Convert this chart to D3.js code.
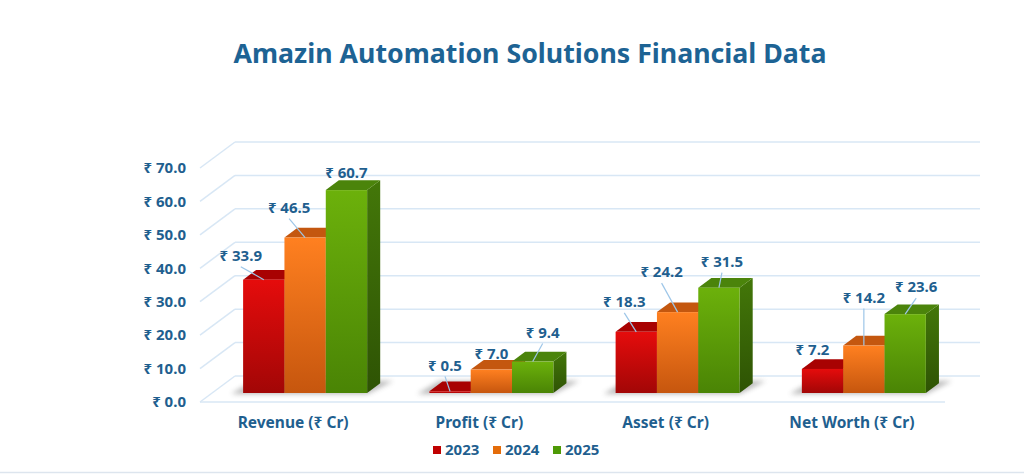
<!DOCTYPE html>
<html lang="en">
<head>
<meta charset="UTF-8">
<title>Amazin Automation Solutions Financial Data</title>
<style>
  body { margin: 0; background: #fff; }
  svg { display: block; font-family: "Noto Sans", "DejaVu Sans", sans-serif; }
  .lbl { font-weight: 700; fill: #1f5f8f; font-size: 15px; }
  .cat { font-size: 15.5px; }
  .grid { stroke: #d8e7f5; stroke-width: 1.5; fill: none; }
  .leader { stroke: #9dc6e8; stroke-width: 1.2; }
</style>
</head>
<body>
<svg width="1024" height="474"></svg>
<script src="https://cdnjs.cloudflare.com/ajax/libs/d3/7.8.5/d3.min.js"></script>
<script>
// data
var categories = ["Revenue (₹ Cr)", "Profit (₹ Cr)", "Asset (₹ Cr)", "Net Worth (₹ Cr)"];
var years = ["2023", "2024", "2025"];
var values2023 = [33.9, 0.5, 18.3, 7.2];
var values2024 = [46.5, 7.0, 24.2, 14.2];
var values2025 = [60.7, 9.4, 31.5, 23.6];
var yTicks = [0, 10, 20, 30, 40, 50, 60, 70];

// label placement (layout only) : [dx, dy] from the top of each bar
var labelNudges = [
  [[-23, -24], [-16, -30], [0, -17]],
  [[-5, -26], [0, -16], [10, -29]],
  [[-12, -30], [-16, -40], [3, -26]],
  [[-10, -19], [0, -48], [11, -27]]
];

var seriesValues = [values2023, values2024, values2025];

var svg = d3.select("svg");

// floor / walls geometry
var originX = 200, originY = 402;
var depthX = 35, depthY = -26;
var barDepthStart = 0.346, barDepthEnd = 0.72;

var band = d3.scaleBand().domain(categories).range([0, 745]);
var inner = d3.scaleBand().domain(years).range([0, 124]);
var height = d3.scaleLinear().domain([0, 70]).range([0, 234]);

function pt(xl, v, d) {
  return [originX + xl + depthX * d, originY - height(v) + depthY * d];
}

var palette = {
  "2023": {top: "#e50c0c", bottom: "#a20606", lid: "#a80202", side: "#850303", sideB: "#6a0202", key: "#c00000"},
  "2024": {top: "#ff8020", bottom: "#c6560e", lid: "#c4570f", side: "#a94a0b", sideB: "#8f3e08", key: "#e46c0a"},
  "2025": {top: "#6cb10b", bottom: "#4a8405", lid: "#4b840b", side: "#437709", sideB: "#2e5304", key: "#4e9a06"}
};

var defs = svg.append("defs");
years.forEach(function(yr) {
  var g = defs.append("linearGradient").attr("id", "front" + yr)
    .attr("x1", 0).attr("y1", 0).attr("x2", 0).attr("y2", 1);
  g.append("stop").attr("offset", "0%").attr("stop-color", palette[yr].top);
  g.append("stop").attr("offset", "100%").attr("stop-color", palette[yr].bottom);
  var s = defs.append("linearGradient").attr("id", "side" + yr)
    .attr("x1", 0).attr("y1", 0).attr("x2", 0).attr("y2", 1);
  s.append("stop").attr("offset", "0%").attr("stop-color", palette[yr].side);
  s.append("stop").attr("offset", "100%").attr("stop-color", palette[yr].sideB);
});
defs.append("filter").attr("id", "blur").attr("x", "-20%").attr("y", "-200%").attr("width", "140%").attr("height", "500%")
  .append("feGaussianBlur").attr("stdDeviation", 2.5);

// title
var title = svg.append("text")
  .attr("x", 530).attr("y", 63)
  .attr("text-anchor", "middle")
  .style("font-weight", 700)
  .style("font-size", "28px")
  .style("fill", "#1d6394")
  .text("Amazin Automation Solutions Financial Data");
var tw = title.node().getComputedTextLength();
title.style("font-size", (28 * 593 / tw) + "px");

// gridlines on the back wall and the side diagonals
var grid = svg.append("g");
yTicks.forEach(function(t) {
  var b0 = pt(0, t, 1), b1 = pt(745, t, 1), f0 = pt(0, t, 0);
  grid.append("line").attr("class", "grid")
    .attr("x1", b0[0]).attr("y1", b0[1]).attr("x2", b1[0]).attr("y2", b1[1]);
  grid.append("line").attr("class", "grid")
    .attr("x1", f0[0]).attr("y1", f0[1]).attr("x2", b0[0]).attr("y2", b0[1]);
});
var fl0 = pt(0, 0, 0), fl1 = pt(745, 0, 0);
grid.append("line").attr("class", "grid")
  .attr("x1", fl0[0]).attr("y1", fl0[1]).attr("x2", fl1[0]).attr("y2", fl1[1]);

// y tick labels
svg.append("g").selectAll("text").data(yTicks).enter().append("text")
  .attr("class", "lbl")
  .attr("x", 186)
  .attr("y", function(t) { return pt(0, t, 0)[1]; })
  .attr("dy", "0.35em")
  .attr("text-anchor", "end")
  .text(function(t) { return "₹ " + d3.format(".1f")(t); });

// shadows under each group
var shadows = svg.append("g");
categories.forEach(function(c) {
  var a = pt(band(c) + inner("2023") + 31, 0, barDepthStart);
  shadows.append("polygon")
    .attr("points", [[a[0] - 12, a[1] + 1], [a[0] + 124, a[1] + 1],
                     [a[0] + 150, a[1] - 12], [a[0] + 10, a[1] - 12]].map(String).join(" "))
    .attr("fill", "#666").attr("opacity", 0.45)
    .attr("filter", "url(#blur)");
});

// bars
var bars = svg.append("g");
var barList = [];
categories.forEach(function(c, ci) {
  years.forEach(function(yr, si) {
    barList.push({cat: c, ci: ci, yr: yr, si: si, v: seriesValues[si][ci]});
  });
});
var bw = inner.bandwidth();
barList.forEach(function(b) {
  var xl = band(b.cat) + 31 + inner(b.yr);
  var fbl = pt(xl, 0, barDepthStart), ftr = pt(xl + bw, b.v, barDepthStart);
  var ftl = pt(xl, b.v, barDepthStart);
  var btl = pt(xl, b.v, barDepthEnd), btr = pt(xl + bw, b.v, barDepthEnd);
  var bbr = pt(xl + bw, 0, barDepthEnd), fbr = pt(xl + bw, 0, barDepthStart);
  var g = bars.append("g");
  g.append("polygon")
    .attr("points", [fbr, ftr, btr, bbr].map(String).join(" "))
    .attr("fill", "url(#side" + b.yr + ")");
  g.append("polygon")
    .attr("points", [ftl, ftr, btr, btl].map(String).join(" "))
    .attr("fill", palette[b.yr].lid);
  g.append("rect")
    .attr("x", fbl[0]).attr("y", ftr[1])
    .attr("width", bw).attr("height", fbl[1] - ftr[1])
    .attr("fill", "url(#front" + b.yr + ")");
  b.topX = fbl[0] + bw / 2;
  b.topY = ftr[1];
});

// data labels with leader lines
var labels = svg.append("g");
barList.forEach(function(b) {
  var n = labelNudges[b.ci][b.si];
  var cx = b.topX + n[0], cy = b.topY + n[1];
  if (b.topY - (cy + 11) > 10) {
    labels.append("line").attr("class", "leader")
      .attr("x1", cx).attr("y1", cy + 11)
      .attr("x2", b.topX).attr("y2", b.topY);
  }
  labels.append("text").attr("class", "lbl")
    .attr("x", cx).attr("y", cy).attr("dy", "0.35em")
    .attr("text-anchor", "middle")
    .text("₹ " + d3.format(".1f")(b.v));
});

// category labels
svg.append("g").selectAll("text").data(categories).enter().append("text")
  .attr("class", "lbl cat")
  .attr("x", function(c) { return pt(band(c) + band.bandwidth() / 2, 0, 0)[0]; })
  .attr("y", 423).attr("dy", "0.35em")
  .attr("text-anchor", "middle")
  .text(function(c) { return c; });

// legend
var legend = svg.append("g").selectAll("g").data(years).enter().append("g")
  .attr("transform", function(d, i) { return "translate(" + (433 + i * 60) + ",446)"; });
legend.append("rect").attr("width", 8).attr("height", 8)
  .attr("fill", function(d) { return palette[d].key; });
legend.append("text").attr("class", "lbl")
  .attr("x", 12).attr("y", 4).attr("dy", "0.35em")
  .text(function(d) { return d; });

// bottom separator
svg.append("line")
  .attr("x1", 0).attr("x2", 1024).attr("y1", 472.5).attr("y2", 472.5)
  .attr("stroke", "#dde5ee").attr("stroke-width", 1.5);
</script>
</body>
</html>
